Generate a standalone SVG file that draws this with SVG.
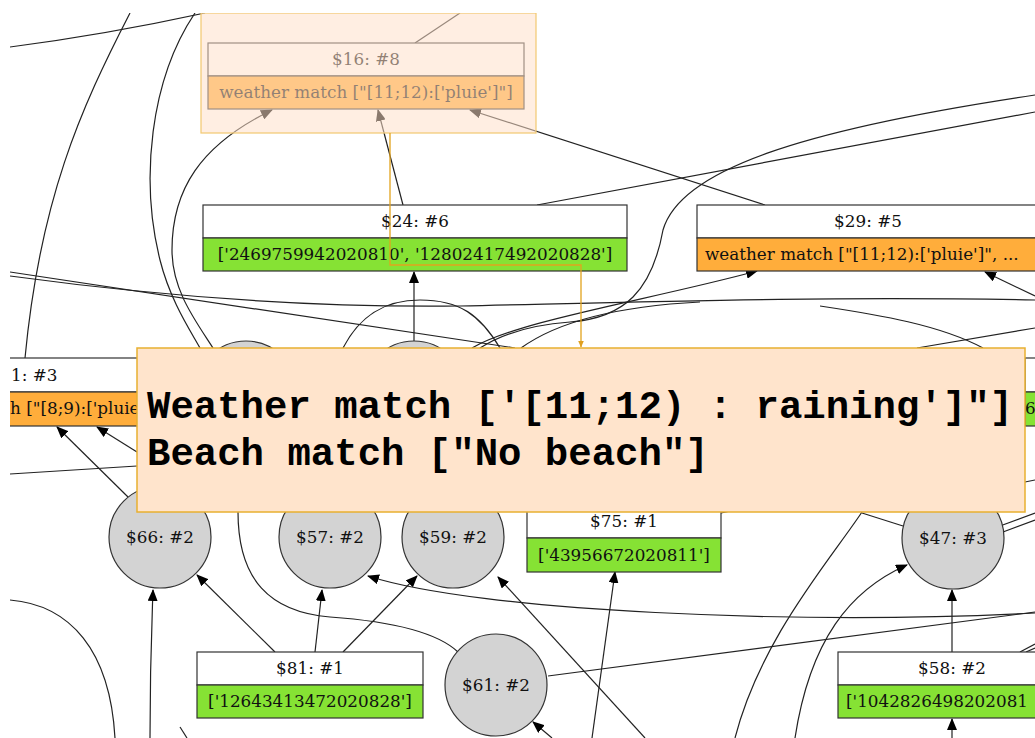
<svg xmlns="http://www.w3.org/2000/svg" width="1035" height="738" viewBox="0 0 1035 738">
<style>
.hd{fill:#ffffff;stroke:#333;stroke-width:1.2}
.or{fill:#ffad3b;stroke:#333;stroke-width:1.2}
.gr{fill:#86e234;stroke:#333;stroke-width:1.2}
.ci{fill:#d3d3d3;stroke:#333;stroke-width:1.2}
.t{font-family:"DejaVu Serif",serif;font-size:16.8px;fill:#111}
.tm{text-anchor:middle}
.e{fill:none;stroke:#222;stroke-width:1.2}
.tt{font-family:"Liberation Mono",monospace;font-weight:bold;font-size:39px;fill:#000}
</style>
<defs>
<marker id="ar" markerWidth="12" markerHeight="10" refX="11" refY="5" orient="auto" markerUnits="userSpaceOnUse">
<path d="M0,0 L12,5 L0,10 z" fill="#000"/>
</marker>
<marker id="ar2" markerWidth="7" markerHeight="6" refX="6.5" refY="3" orient="auto" markerUnits="userSpaceOnUse">
<path d="M0,0 L7,3 L0,6 z" fill="#e0a020"/>
</marker>
<clipPath id="cp"><rect x="10" y="13" width="1025" height="725"/></clipPath>
</defs>
<rect width="1035" height="738" fill="#fff"/>
<g clip-path="url(#cp)">
<g id="connectors">
<path class="e" d="M10,47 C80,38 150,25 205,13"/>
<path class="e" d="M130,13 C80,110 40,200 25,358"/>
<path class="e" d="M195,13 C150,80 140,180 160,260 C170,300 190,330 200,348"/>
<path class="e" d="M213,348 C195,320 172,290 172,250 C172,190 200,145 272,110" marker-end="url(#ar)"/>
<path class="e" d="M415,43 L460,13"/>
<path class="e" d="M403,205 L378,110" marker-end="url(#ar)"/>
<path class="e" d="M765,205 L470,110" marker-end="url(#ar)"/>
<path class="e" d="M537,205 L1035,112"/>
<path class="e" d="M1035,95 C800,130 680,170 663,230 C652,290 625,318 570,322 C530,325 500,335 480,348"/>
<path class="e" d="M10,272 L515,348"/>
<path class="e" d="M10,276 C150,295 300,308 460,306 C640,302 820,296 1035,300"/>
<path class="e" d="M343,348 C360,315 385,300 420,300 C460,300 480,315 500,348"/>
<path class="e" d="M472,348 C520,320 650,300 757,271" marker-end="url(#ar)"/>
<path class="e" d="M521,348 C560,320 620,306 700,302"/>
<path class="e" d="M1035,296 L985,272" marker-end="url(#ar)"/>
<path class="e" d="M917,348 L1035,328"/>
<path class="e" d="M983,348 C940,325 880,315 820,306"/>
<path class="e" d="M414,341 L414,272" marker-end="url(#ar)"/>
<path class="e" d="M128,497 L57,427" marker-end="url(#ar)"/>
<path class="e" d="M137,452 L97,427" marker-end="url(#ar)"/>
<path class="e" d="M10,474 L137,466"/>
<path class="e" d="M150,738 C150,660 152,620 153,590" marker-end="url(#ar)"/>
<path class="e" d="M275,652 L197,575" marker-end="url(#ar)"/>
<path class="e" d="M315,652 L322,590" marker-end="url(#ar)"/>
<path class="e" d="M343,652 L417,576" marker-end="url(#ar)"/>
<path class="e" d="M1035,613 C800,625 480,612 368,576" marker-end="url(#ar)"/>
<path class="e" d="M645,738 L498,577" marker-end="url(#ar)"/>
<path class="e" d="M238,512 C238,580 270,612 330,617 C400,622 440,635 458,652"/>
<path class="e" d="M548,676 L1035,612"/>
<path class="e" d="M552,738 L533,722" marker-end="url(#ar)"/>
<path class="e" d="M592,738 L615,572" marker-end="url(#ar)"/>
<path class="e" d="M795,738 C810,640 850,590 907,565" marker-end="url(#ar)"/>
<path class="e" d="M735,738 C760,640 830,560 862,512"/>
<path class="e" d="M903,526 L862,513"/>
<path class="e" d="M952,652 L952,590" marker-end="url(#ar)"/>
<path class="e" d="M952,738 L952,719" marker-end="url(#ar)"/>
<path class="e" d="M1000,526 L1035,513"/>
<path class="e" d="M1003,532 L1035,520"/>
<path class="e" d="M1020,652 L1035,644"/>
<path class="e" d="M1026,652 L1035,648"/>
<path class="e" d="M1025,482 L1035,480"/>
<path class="e" d="M10,600 C70,605 110,650 115,738"/>
<path class="e" d="M721,513 L745,508"/>
<path class="e" d="M180,727 L187,738"/>
</g>
<g id="n16">
<rect class="hd" x="208" y="43" width="316" height="33"/>
<rect class="or" x="208" y="76" width="316" height="33"/>
<text class="t tm" x="366" y="65">$16: #8</text>
<text class="t tm" x="366" y="98">weather match ["[11;12):['pluie']"]</text>
</g>
<g id="n24">
<rect class="hd" x="203" y="205" width="424" height="33"/>
<rect class="gr" x="203" y="238" width="424" height="33"/>
<text class="t tm" x="415" y="227">$24: #6</text>
<text class="t tm" x="415" y="260">['2469759942020810', '12802417492020828']</text>
</g>
<g id="n29">
<rect class="hd" x="697" y="205" width="345" height="33"/>
<rect class="or" x="697" y="238" width="345" height="33"/>
<text class="t tm" x="868" y="227">$29: #5</text>
<text class="t" x="705" y="260">weather match ["[11;12):['pluie']",  ...</text>
</g>
<g id="nleft">
<rect class="hd" x="0" y="358" width="160" height="34"/>
<rect class="or" x="0" y="392" width="160" height="34"/>
<text class="t" x="11" y="381">1: #3</text>
<text class="t" x="10" y="414">h ["[8;9):['pluie</text>
</g>
<g id="nright">
<rect class="hd" x="1025" y="358" width="30" height="34"/>
<rect class="gr" x="1025" y="392" width="30" height="34"/>
<text class="t" x="1025" y="414">6</text>
</g>
<g id="c_a"><circle class="ci" cx="246" cy="392" r="51"/></g>
<g id="c_b"><circle class="ci" cx="414" cy="392" r="51"/></g>
<g id="n66"><circle class="ci" cx="160" cy="537" r="51"/><text class="t tm" x="160" y="543">$66: #2</text></g>
<g id="n57"><circle class="ci" cx="330" cy="537" r="51"/><text class="t tm" x="330" y="543">$57: #2</text></g>
<g id="n59"><circle class="ci" cx="453" cy="537" r="51"/><text class="t tm" x="453" y="543">$59: #2</text></g>
<g id="n47"><circle class="ci" cx="953" cy="538" r="51"/><text class="t tm" x="953" y="544">$47: #3</text></g>
<g id="n61"><circle class="ci" cx="496" cy="685" r="51"/><text class="t tm" x="496" y="691">$61: #2</text></g>
<g id="n75">
<rect class="hd" x="527" y="505" width="194" height="33"/>
<rect class="gr" x="527" y="538" width="194" height="34"/>
<text class="t tm" x="624" y="527">$75: #1</text>
<text class="t tm" x="624" y="561">['43956672020811']</text>
</g>
<g id="n81">
<rect class="hd" x="197" y="652" width="226" height="33"/>
<rect class="gr" x="197" y="685" width="226" height="33"/>
<text class="t tm" x="310" y="674">$81: #1</text>
<text class="t tm" x="310" y="707">['12643413472020828']</text>
</g>
<g id="n58">
<rect class="hd" x="838" y="652" width="228" height="33"/>
<rect class="gr" x="838" y="685" width="228" height="33"/>
<text class="t tm" x="952" y="674">$58: #2</text>
<text class="t" x="846" y="707">['1042826498202081</text>
</g>
<g id="highlight">
<rect x="201" y="13" width="335" height="120" fill="#ffdfca" fill-opacity="0.54" stroke="#f2c870" stroke-width="1.2"/>
</g>
</g>
<g id="pointer">
<path d="M390,133 L390,265 L581,265 L581,347" fill="none" stroke="#e2a41e" stroke-width="1.3" marker-end="url(#ar2)"/>
</g>
<g id="tooltip">
<rect x="137" y="348" width="888" height="164" fill="#ffe4cc" stroke="#e8b030" stroke-width="1.5"/>
<text class="tt" x="147" y="418">Weather match ['[11;12) : raining']"]</text>
<text class="tt" x="147" y="465">Beach match ["No beach"]</text>
</g>
</svg>
